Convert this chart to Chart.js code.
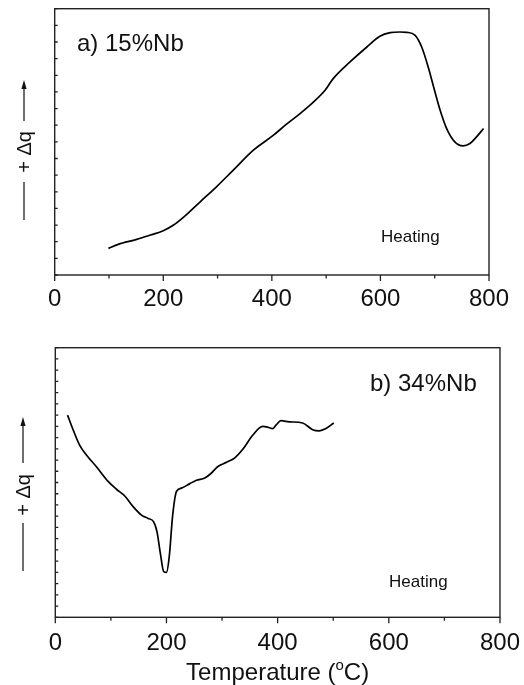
<!DOCTYPE html>
<html>
<head>
<meta charset="utf-8">
<script src="https://cdn.jsdelivr.net/npm/chart.js@4/dist/chart.umd.min.js"></script>
<style>
  html, body { margin: 0; padding: 0; background: #fff; }
  body { width: 524px; height: 685px; position: relative; overflow: hidden; }
  canvas { position: absolute; left: 0; }
  #cA { top: 0; }
  #cB { top: 310px; }
</style>
</head>
<body>
<canvas id="cA" width="524" height="310"></canvas>
<canvas id="cB" width="524" height="375"></canvas>
<script>
// ---- Data ----
const tempA   = [99, 117, 151, 176, 200, 219, 237, 268, 298, 329, 366, 403, 427, 452, 477, 498, 513, 544, 575, 599, 618, 636, 648, 664, 676, 688, 698, 710, 722, 737, 752, 765, 777, 790];
const signalA = [1.6, 1.84, 2.14, 2.4, 2.66, 3.0, 3.46, 4.4, 5.3, 6.3, 7.5, 8.4, 9.06, 9.7, 10.4, 11.1, 11.8, 12.8, 13.7, 14.34, 14.56, 14.6, 14.58, 14.4, 13.7, 12.5, 11.3, 9.9, 8.8, 8.0, 7.76, 7.9, 8.3, 8.8];

const tempB   = [22, 32, 44, 56, 74, 95, 110, 125, 140, 155, 167, 177, 183, 189, 195, 200, 205, 211, 218, 227, 242, 254, 269, 280, 292, 308, 323, 338, 355, 373, 384, 391, 397, 406, 421, 445, 463, 475, 487, 501];
const signalB = [18.0, 16.7, 15.3, 14.45, 13.4, 12.1, 11.4, 10.8, 9.85, 9.1, 8.8, 8.5, 7.6, 5.7, 4.07, 4.0, 5.4, 9.0, 11.2, 11.5, 11.9, 12.2, 12.4, 12.8, 13.4, 13.8, 14.2, 15.0, 16.2, 17.0, 16.9, 16.8, 17.1, 17.5, 17.4, 17.3, 16.7, 16.6, 16.8, 17.3];

const xMin = 0, xMax = 800, xStep = 100, xLabelEvery = 200;
const yMaxA = 16, yMaxB = 24;
const labelA = "a) 15%Nb";
const labelB = "b) 34%Nb";
const noteText = "Heating";
const yLabelText = "+ \u0394q";
const xTitleMain = "Temperature (";
const xTitleSup = "o";
const xTitleEnd = "C)";

const FONT = "'Liberation Sans', Arial, Helvetica, sans-serif";

function pts(xs, ys) { return xs.map((x, i) => ({ x: x, y: ys[i] })); }

function drawYLabel(ctx, x, tip, upperEnd, textCenter, lowerStart, lowerEnd) {
  ctx.save();
  ctx.strokeStyle = '#222';
  ctx.fillStyle = '#111';
  ctx.lineWidth = 1.3;
  ctx.beginPath();
  ctx.moveTo(x, tip + 7); ctx.lineTo(x, upperEnd);
  ctx.moveTo(x, lowerStart); ctx.lineTo(x, lowerEnd);
  ctx.stroke();
  ctx.beginPath();
  ctx.moveTo(x, tip); ctx.lineTo(x - 2.6, tip + 9); ctx.lineTo(x + 2.6, tip + 9); ctx.closePath();
  ctx.fill();
  ctx.translate(x + 1, textCenter);
  ctx.rotate(-Math.PI / 2);
  ctx.font = "20px " + FONT;
  ctx.textAlign = 'center';
  ctx.textBaseline = 'middle';
  ctx.fillText(yLabelText, 0, 0);
  ctx.restore();
}

function makeDecor(cfg) {
  return {
    id: 'decor',
    afterDraw(chart) {
      const ctx = chart.ctx;
      const a = chart.chartArea;
      const xs = chart.scales.x, ys = chart.scales.y;
      ctx.save();
      // frame
      ctx.strokeStyle = '#222';
      ctx.lineWidth = 1.4;
      ctx.strokeRect(a.left, a.top, a.right - a.left, a.bottom - a.top);
      // x ticks (outward)
      ctx.lineWidth = 1.3;
      ctx.beginPath();
      xs.ticks.forEach(t => {
        const px = xs.getPixelForValue(t.value);
        const len = (t.value % xLabelEvery === 0) ? 6 : 3.5;
        ctx.moveTo(px, a.bottom); ctx.lineTo(px, a.bottom + len);
      });
      // y ticks (inward)
      ys.ticks.forEach(t => {
        const py = ys.getPixelForValue(t.value);
        ctx.moveTo(a.left, py); ctx.lineTo(a.left + 3, py);
      });
      ctx.stroke();
      // annotations
      ctx.fillStyle = '#111';
      ctx.textAlign = 'left';
      ctx.textBaseline = 'alphabetic';
      ctx.font = "24px " + FONT;
      ctx.fillText(cfg.label, cfg.labelX, cfg.labelY);
      ctx.font = "17px " + FONT;
      ctx.fillText(noteText, cfg.noteX, cfg.noteY);
      drawYLabel(ctx, cfg.yl[0], cfg.yl[1], cfg.yl[2], cfg.yl[3], cfg.yl[4], cfg.yl[5]);
      if (cfg.title) {
        const f1 = "24px " + FONT, f2 = "15px " + FONT;
        ctx.font = f1; const w1 = ctx.measureText(xTitleMain).width; const w3 = ctx.measureText(xTitleEnd).width;
        ctx.font = f2; const w2 = ctx.measureText(xTitleSup).width;
        const total = w1 + w2 + w3;
        let x0 = (a.left + a.right) / 2 - total / 2;
        const by = cfg.titleY;
        ctx.font = f1; ctx.fillText(xTitleMain, x0, by);
        ctx.font = f2; ctx.fillText(xTitleSup, x0 + w1, by - 10);
        ctx.font = f1; ctx.fillText(xTitleEnd, x0 + w1 + w2, by);
      }
      ctx.restore();
    }
  };
}

function makeChart(id, xsArr, ysArr, yMax, layout, cfg) {
  return new Chart(document.getElementById(id), {
    type: 'line',
    data: {
      datasets: [{
        data: pts(xsArr, ysArr),
        borderColor: '#000',
        borderWidth: 1.7,
        pointRadius: 0,
        fill: false,
        cubicInterpolationMode: 'monotone'
      }]
    },
    options: {
      responsive: false,
      animation: false,
      devicePixelRatio: 1,
      layout: { padding: { left: 0, top: layout.top, right: layout.right, bottom: 0 } },
      plugins: { legend: { display: false }, tooltip: { enabled: false }, title: { display: false } },
      scales: {
        x: {
          type: 'linear', min: xMin, max: xMax,
          grid: { display: false },
          border: { display: false },
          ticks: {
            stepSize: xStep, autoSkip: false, maxRotation: 0, minRotation: 0,
            padding: layout.tickPad,
            color: '#111',
            font: { family: FONT, size: 24 },
            callback: v => (v % xLabelEvery === 0 ? String(v) : '')
          },
          afterFit: s => { s.height = layout.xH; }
        },
        y: {
          min: 0, max: yMax,
          grid: { display: false },
          border: { display: false },
          ticks: { display: false, stepSize: 1 },
          afterFit: s => { s.width = layout.left; }
        }
      }
    },
    plugins: [makeDecor(cfg)]
  });
}

makeChart('cA', tempA, signalA, yMaxA,
  { top: 8.7, right: 35, left: 54.7, xH: 35, tickPad: 2 },
  { label: labelA, labelX: 77, labelY: 51, noteX: 381, noteY: 242,
    yl: [24, 80, 121, 152, 182, 220] });

makeChart('cB', tempB, signalB, yMaxB,
  { top: 37.7, right: 23, left: 55.3, xH: 67.7, tickPad: 4 },
  { label: labelB, labelX: 370, labelY: 81, noteX: 389, noteY: 277,
    yl: [23, 107, 153, 185, 213, 261], title: true, titleY: 370 });
</script>
</body>
</html>
